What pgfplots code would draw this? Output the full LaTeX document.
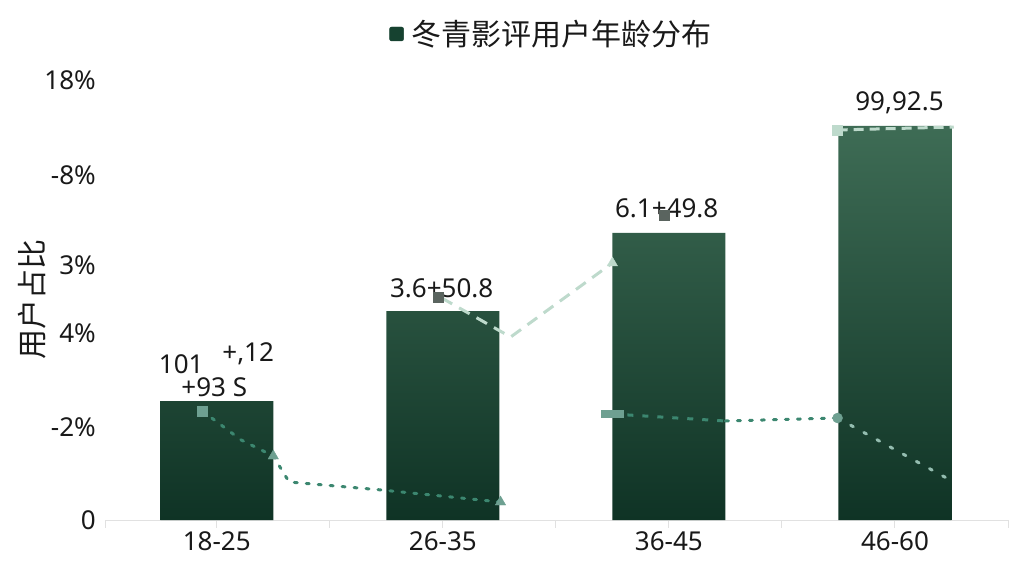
\documentclass[border=0pt]{standalone}
\usepackage{pgfplots}
\pgfplotsset{compat=1.18}
\usepackage{fontspec}
\setmainfont{Noto Sans}
\newfontfamily\cjk{Noto Sans CJK SC}
\definecolor{bartop}{RGB}{62,108,85}
\definecolor{barbot}{RGB}{15,51,37}
\definecolor{legendgreen}{RGB}{22,66,48}
\definecolor{palegreen}{RGB}{190,218,204}
\definecolor{dotteal}{RGB}{60,135,112}
\definecolor{markteal}{RGB}{110,160,145}
\definecolor{markgray}{RGB}{90,100,95}
\definecolor{axisgray}{RGB}{225,225,225}
\definecolor{txt}{RGB}{25,25,25}

\begin{document}
\begin{tikzpicture}
\path[use as bounding box] (-106pt,-56pt) rectangle (918pt,520pt);
\begin{axis}[
    scale only axis, width=902pt, height=450pt,
    xmin=-0.49, xmax=3.5, ymin=0, ymax=450,
    clip=false,
    axis x line*=bottom, axis y line*=left,
    x axis line style={draw=axisgray, line width=1pt, -},
    y axis line style={draw=none},
    xtick={0,1,2,3}, xticklabels={18-25,26-35,36-45,46-60},
    minor xtick={-0.49,0.5,1.5,2.5,3.5},
    xtick style={draw=axisgray, line width=1pt},
    tick align=outside, major tick length=8pt, minor tick length=8pt,
    ytick={0,93,187,255,345,440},
    yticklabels={0,-2\%,4\%,3\%,-8\%,18\%},
    ytick style={draw=none},
    tick label style={font=\fontsize{26}{30}\selectfont, text=txt},
    yticklabel style={anchor=east, inner xsep=0pt, xshift=-2pt},
    ylabel={\cjk 用户占比},
    ylabel style={at={(axis description cs:-0.082,0.49)}, anchor=center,
        font=\fontsize{30}{34}\selectfont, text=txt},
    legend style={at={(axis description cs:0.494,1.08)}, anchor=center,
        draw=none, fill=none, font=\fontsize{30}{34}\selectfont, text=txt},
]
\addlegendimage{legend image code/.code={\fill[legendgreen, rounded corners=2pt] (0pt,-7pt) rectangle (14pt,7pt);}}
\addlegendentry{\hspace{6pt}\cjk 冬青影评用户年龄分布}

% bars
\addplot[ybar, bar width=113pt, draw=none, top color=bartop, bottom color=barbot, forget plot]
    coordinates {(0,119) (1,209) (2,287) (3,394)};

% pale dashed overlay
\addplot[palegreen, line width=3pt, dash pattern=on 12pt off 8pt, forget plot]
    coordinates {(0.995,222) (1.30,183) (1.75,257)};
\addplot[palegreen, line width=3pt, dash pattern=on 10pt off 6pt, forget plot]
    coordinates {(2.746,390) (3.26,393)};
\addplot[only marks, mark=triangle*, mark size=6pt, palegreen, forget plot]
    coordinates {(1.75,257)};
\addplot[only marks, mark=square*, mark size=5pt, palegreen, forget plot]
    coordinates {(2.746,390)};

% dotted teal overlay
\addplot[dotteal, line width=3pt, dash pattern=on 3pt off 9pt, line cap=round, forget plot]
    coordinates {(-0.064,109) (0.108,80) (0.25,64) (0.32,38) (0.73,30) (1.255,18)};
\addplot[dotteal, line width=3pt, dash pattern=on 6pt off 9pt, forget plot]
    coordinates {(1.75,106) (2.25,99)};
\addplot[dotteal, line width=3pt, dash pattern=on 3pt off 9pt, line cap=round, forget plot]
    coordinates {(2.25,99) (2.746,102)};
\addplot[dotteal!55, line width=3pt, dash pattern=on 3pt off 12pt, line cap=round, forget plot]
    coordinates {(2.746,102) (3.26,38)};
\addplot[only marks, mark=square*, mark size=5pt, markteal, forget plot]
    coordinates {(-0.064,109)};
\addplot[only marks, mark=triangle*, mark size=6pt, markteal, forget plot]
    coordinates {(0.25,64) (1.255,18)};
\addplot[only marks, mark=*, mark size=5pt, markteal, forget plot]
    coordinates {(2.746,102)};
\addplot[only marks, mark=square*, mark size=6pt, mark options={xscale=1.8, yscale=0.6}, markteal, forget plot]
    coordinates {(1.75,106)};
\addplot[only marks, mark=square*, mark size=5pt, markgray, forget plot]
    coordinates {(0.98,223) (1.98,305)};

% value labels
\begin{scope}[every node/.style={font=\fontsize{26}{30}\selectfont, text=txt}]
\node at (axis cs:0.995,232) {3.6+50.8};
\node at (axis cs:1.99,312) {6.1+49.8};
\node at (axis cs:3.02,417) {99,92.5};
\node at (axis cs:-0.157,156) {101};
\node at (axis cs:0.139,166) {+,12};
\node at (axis cs:-0.011,133) {+93 S};
\end{scope}
\end{axis}
\end{tikzpicture}
\end{document}
